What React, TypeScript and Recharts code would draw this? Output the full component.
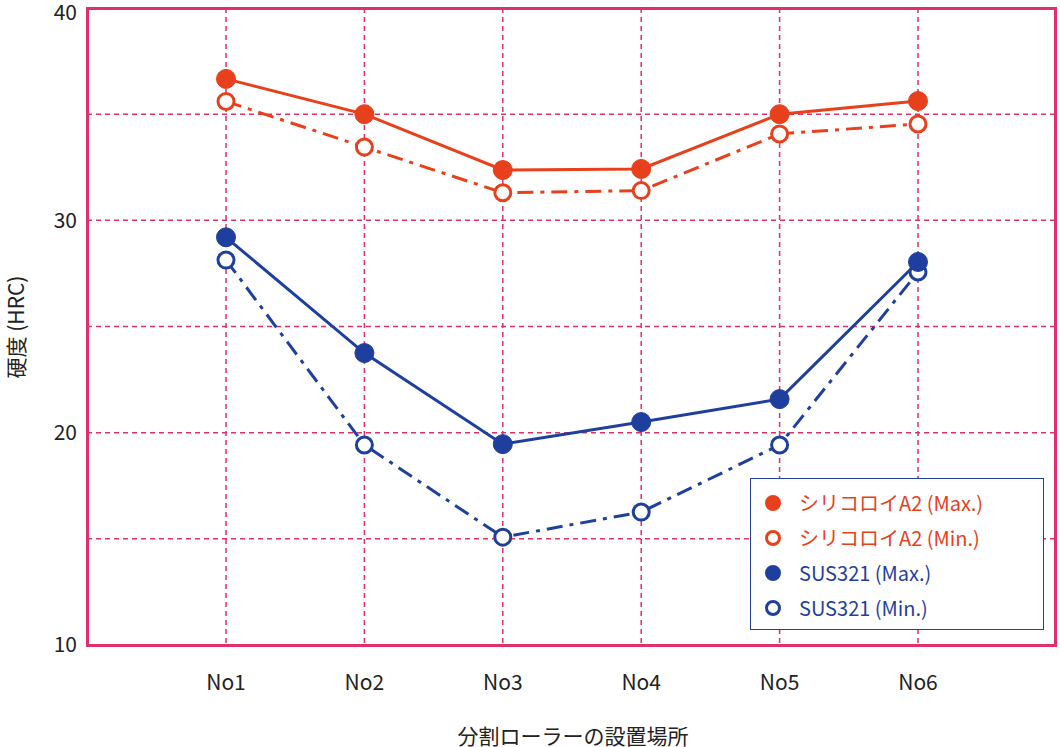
import React from 'react';
import { LineChart, Line, XAxis, YAxis, CartesianGrid } from 'recharts';

const categories = ['No1', 'No2', 'No3', 'No4', 'No5', 'No6'];
const siliMax = [36.66, 35.0, 32.37, 32.42, 35.0, 35.62];
const siliMin = [35.6, 33.45, 31.3, 31.4, 34.07, 34.54];
const susMax = [29.2, 23.75, 19.46, 20.5, 21.58, 28.04];
const susMin = [28.13, 19.42, 15.08, 16.26, 19.42, 27.57];
const yTicks = [10, 15, 20, 25, 30, 35, 40];

const data = categories.map((c, i) => ({ c, a: siliMax[i], b: siliMin[i], d: susMax[i], e: susMin[i] }));

const ORANGE = '#e8401c';
const BLUE = '#1f3f9e';
const PINK = '#e0306a';
const FONT = '"Noto Sans CJK JP", "Noto Sans", sans-serif';

const legendItems = [
  { label: 'シリコロイA2 (Max.)', color: ORANGE, filled: true },
  { label: 'シリコロイA2 (Min.)', color: ORANGE, filled: false },
  { label: 'SUS321 (Max.)', color: BLUE, filled: true },
  { label: 'SUS321 (Min.)', color: BLUE, filled: false },
];

export default function App() {
  return (
    <div style={{ position: 'absolute', left: 0, top: 0, width: 1060, height: 747, background: '#fff', fontFamily: FONT, overflow: 'hidden' }}>
      <LineChart width={1060} height={747} data={data} margin={{ top: 8, right: 5, left: 0, bottom: 62 }}>
        <CartesianGrid stroke={PINK} strokeDasharray="5 4" strokeWidth={1.5} />
        <XAxis dataKey="c" height={40} padding={{ left: 139, right: 137 }} axisLine={false} tickLine={false}
          tick={{ fill: '#222', fontSize: 21, fontFamily: FONT }} dy={22} />
        <YAxis width={87} domain={[10, 40]} ticks={yTicks} axisLine={false} tickLine={false}
          tickFormatter={(v: number) => (v % 10 === 0 ? String(v) : '')}
          tick={{ fill: '#222', fontSize: 21, fontFamily: FONT }} dx={-2} />
        <Line dataKey="b" stroke={ORANGE} strokeWidth={3} strokeDasharray="16 7 4 7" isAnimationActive={false}
          dot={{ r: 8, fill: '#fff', stroke: ORANGE, strokeWidth: 3, strokeDasharray: '0' }} />
        <Line dataKey="a" stroke={ORANGE} strokeWidth={3} isAnimationActive={false}
          dot={{ r: 9.5, fill: ORANGE, stroke: ORANGE, strokeWidth: 1 }} />
        <Line dataKey="e" stroke={BLUE} strokeWidth={3} strokeDasharray="16 7 4 7" isAnimationActive={false}
          dot={{ r: 8, fill: '#fff', stroke: BLUE, strokeWidth: 3, strokeDasharray: '0' }} />
        <Line dataKey="d" stroke={BLUE} strokeWidth={3} isAnimationActive={false}
          dot={{ r: 9.5, fill: BLUE, stroke: BLUE, strokeWidth: 1 }} />
      </LineChart>
      <div style={{ position: 'absolute', left: 86, top: 7, width: 965, height: 634, border: `3px solid ${PINK}`, pointerEvents: 'none' }} />
      <div style={{ position: 'absolute', left: 0, top: 720, width: 1146, textAlign: 'center', fontSize: 21, color: '#222' }}>分割ローラーの設置場所</div>
      <div style={{ position: 'absolute', left: 15, top: 327, width: 0, height: 0 }}>
        <div style={{ position: 'absolute', transform: 'translate(-50%, -50%) rotate(-90deg)', whiteSpace: 'nowrap', fontSize: 21, color: '#222' }}>硬度 (HRC)</div>
      </div>
      <div style={{ position: 'absolute', left: 750, top: 478, width: 294, height: 152, border: `1.5px solid ${BLUE}`, background: '#fff', padding: '6px 0 0 14px', boxSizing: 'border-box' }}>
        {legendItems.map((it) => (
          <div key={it.label} style={{ display: 'flex', alignItems: 'center', height: 35, color: it.color, fontSize: 20 }}>
            <span style={{ display: 'inline-block', width: 16, height: 16, borderRadius: '50%', boxSizing: 'border-box', border: `3px solid ${it.color}`, background: it.filled ? it.color : '#fff', marginRight: 18 }} />
            {it.label}
          </div>
        ))}
      </div>
    </div>
  );
}
